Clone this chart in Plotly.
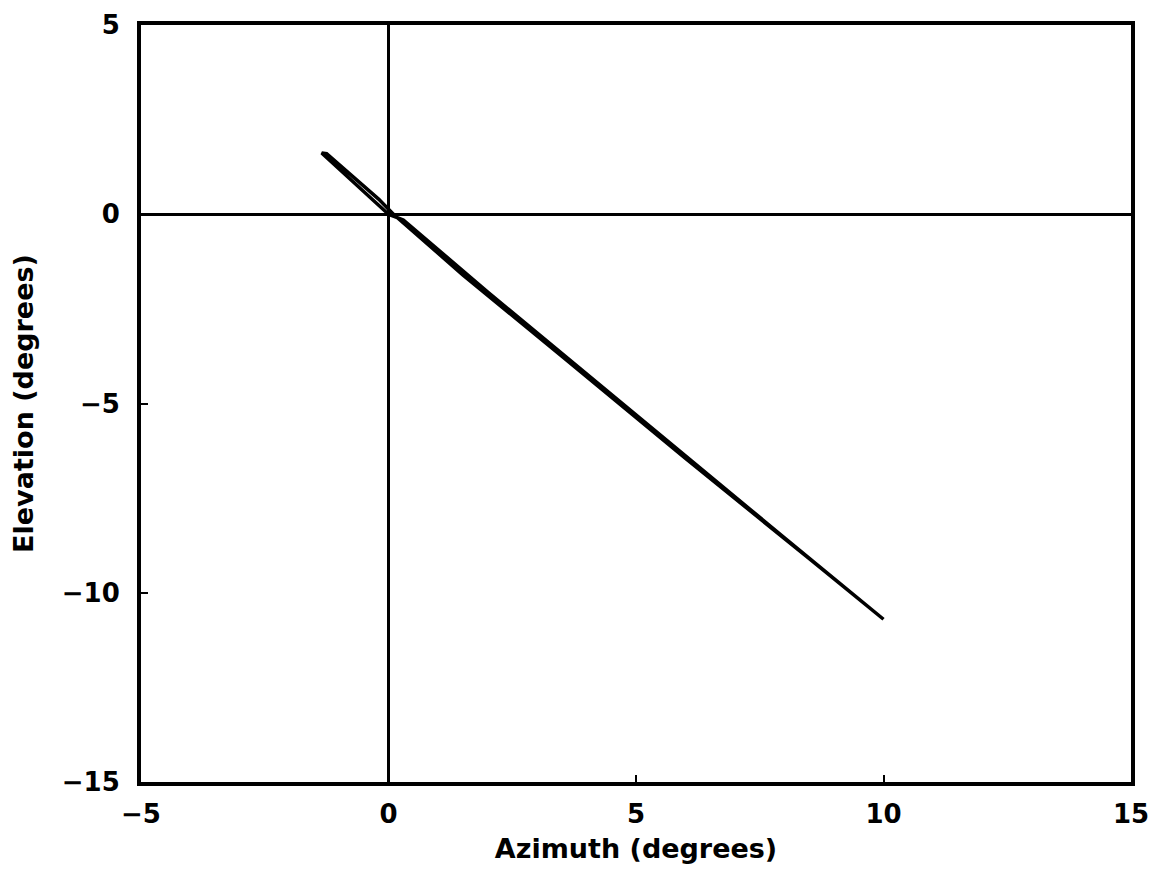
import plotly.graph_objects as go

azimuth = [0.0, -0.5, -1.0, -1.35, -1.25, -0.7, -0.2, 0.1, 1.5, 3.5, 6.0, 8.5, 10.0, 8.0, 5.0, 2.0, 0.3, 0.0]
elevation = [0.0, 0.6, 1.2, 1.62, 1.6, 0.98, 0.4, 0.0, -1.6, -3.75, -6.45, -9.1, -10.7, -8.55, -5.3, -2.05, -0.15, 0.0]

x_ticks = [-5, 0, 5, 10, 15]
x_labels = ["−5", "0", "5", "10", "15"]
y_ticks = [5, 0, -5, -10, -15]
y_labels = ["5", "0", "−5", "−10", "−15"]

fig = go.Figure()
fig.add_trace(go.Scatter(x=azimuth, y=elevation, mode="lines",
                         line=dict(color="black", width=3.5), showlegend=False))

fam = "DejaVu Sans, Liberation Sans, Arial, sans-serif"
tickfont = dict(family=fam, size=26, color="black", weight="bold")
titlefont = dict(family=fam, size=27, color="black", weight="bold")

fig.update_layout(
    width=1149, height=863,
    margin=dict(l=133, r=26, t=17, b=89),
    paper_bgcolor="white", plot_bgcolor="white",
    font=dict(family=fam, color="black"),
)
fig.update_xaxes(
    range=[-5, 15], tickvals=x_ticks, ticktext=x_labels, tickfont=tickfont,
    showgrid=False, zeroline=True, zerolinecolor="black", zerolinewidth=2.5,
    showline=True, linecolor="black", linewidth=4, mirror=True,
    ticks="inside", ticklen=7, tickwidth=2, tickcolor="black",
    ticklabelstandoff=6,
    title=dict(text="Azimuth (degrees)", font=titlefont, standoff=12),
    automargin=False,
)
fig.update_yaxes(
    range=[-15, 5], tickvals=y_ticks, ticktext=y_labels, tickfont=tickfont,
    showgrid=False, zeroline=True, zerolinecolor="black", zerolinewidth=2.5,
    showline=True, linecolor="black", linewidth=4, mirror=True,
    ticks="inside", ticklen=7, tickwidth=2, tickcolor="black",
    ticklabelstandoff=12,
    title=dict(text="Elevation (degrees)", font=titlefont, standoff=22),
    automargin=False,
)

fig.write_html("out.html")
